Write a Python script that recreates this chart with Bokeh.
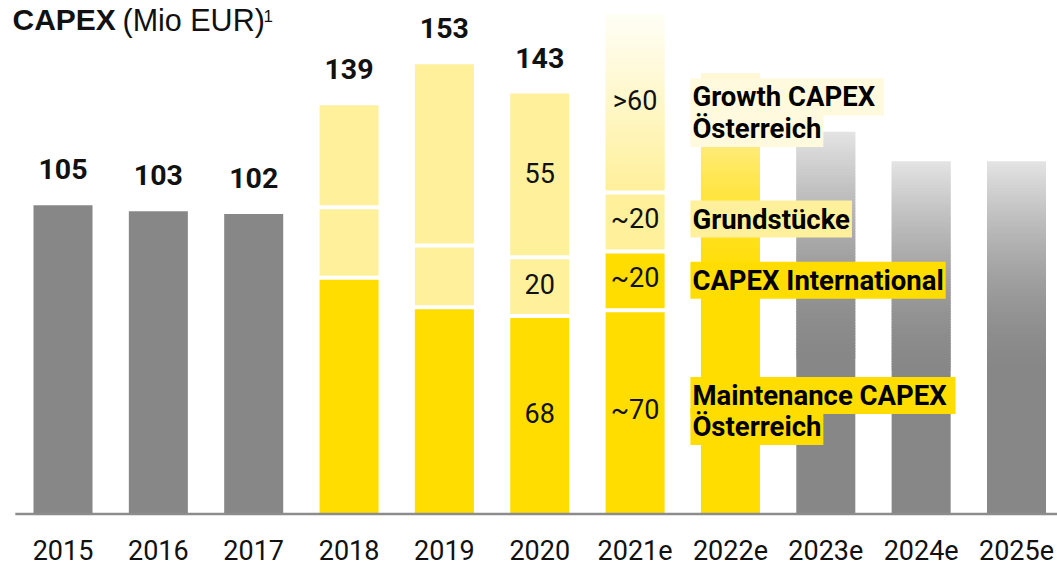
from bokeh.plotting import figure
from bokeh.models import Range1d, ColumnDataSource, Label
from bokeh.core.properties import value
from bokeh.embed import file_html
from bokeh.resources import INLINE

# ---------------- data ----------------
years = ["2015", "2016", "2017", "2018", "2019", "2020",
         "2021e", "2022e", "2023e", "2024e", "2025e"]

hist_years = ["2015", "2016", "2017"]
hist_values = [105, 103, 102]

stack_years = ["2018", "2019", "2020"]
stack_maint = [81, 71, 68]
stack_mid = [24, 21, 20]
stack_growth = [34, 61, 55]

total_years = ["2015", "2016", "2017", "2018", "2019", "2020"]
totals = [105, 103, 102, 139, 153, 143]

labels_2020 = ["68", "20", "55"]

plan_year = "2021e"
plan_segments = [70, 20, 20, 60]          # Maintenance, International, Grundstücke, Growth
plan_labels = ["~70", "~20", "~20", ">60"]

fc_yellow_year = "2022e"
fc_yellow_value = 150
fc_gray_years = ["2023e", "2024e", "2025e"]
fc_gray_values = [130, 120, 120]

legend_names = ["Maintenance CAPEX ", "Österreich", "CAPEX International",
                "Grundstücke", "Growth CAPEX ", "Österreich"]

# ---------------- style ----------------
GRAY = "#878787"
YELLOW = "#FFDD00"
LIGHT = "#FFF09B"
PALE = "#FFF9DE"
FONT = "Roboto"
PX_PER_UNIT = 2.94
GAP = 4 / PX_PER_UNIT
W = 0.619

W_PX, H_PX = 1057, 565
BASE_PX = 513.5
x0 = (0 - 62.5) / 95.35
x1 = (W_PX - 62.5) / 95.35
y_top = BASE_PX / PX_PER_UNIT
y_bot = -(H_PX - BASE_PX) / PX_PER_UNIT

p = figure(width=W_PX, height=H_PX, x_range=Range1d(x0, x1), y_range=Range1d(y_bot, y_top),
           output_backend="svg", toolbar_location=None, min_border=0)
p.axis.visible = False
p.grid.visible = False
p.outline_line_color = None
p.background_fill_color = "white"
p.border_fill_color = "white"

idx = {y: i for i, y in enumerate(years)}


def hex2rgb(h):
    h = h.lstrip("#")
    return [int(h[i:i + 2], 16) for i in (0, 2, 4)]


def mix(c0, c1, t):
    a, b = hex2rgb(c0), hex2rgb(c1)
    return "#%02x%02x%02x" % tuple(round(a[k] + (b[k] - a[k]) * t) for k in range(3))


quads = dict(left=[], right=[], bottom=[], top=[], color=[])


def add_quad(x, b, t, c):
    quads["left"].append(x - W / 2)
    quads["right"].append(x + W / 2)
    quads["bottom"].append(b)
    quads["top"].append(t)
    quads["color"].append(c)


def add_gradient(x, b, t, c_bottom, c_top, n=80, ease=1.0):
    step = (t - b) / n
    for k in range(n):
        yb = b + k * step
        yt = min(yb + step * 1.6, t)
        add_quad(x, yb, yt, mix(c_bottom, c_top, ((k + 0.5) / n) ** ease))


# historic gray bars
for y, v in zip(hist_years, hist_values):
    add_quad(idx[y], 0, v, GRAY)

# stacked 2018-2020
for y, m, mid, g in zip(stack_years, stack_maint, stack_mid, stack_growth):
    x = idx[y]
    add_quad(x, 0, m - GAP, YELLOW)
    add_quad(x, m, m + mid - GAP, LIGHT)
    add_quad(x, m + mid, m + mid + g, LIGHT)

# 2021e plan
xp = idx[plan_year]
cum = 0
plan_centers = []
plan_colors = [YELLOW, YELLOW, LIGHT]
for k, v in enumerate(plan_segments):
    plan_centers.append(cum + v / 2)
    if k < 3:
        add_quad(xp, cum, cum + v - GAP, plan_colors[k])
    else:
        add_gradient(xp, cum, cum + v, LIGHT, "#FFFEF6")
    cum += v

# 2022e yellow gradient
xy = idx[fc_yellow_year]
solid = fc_yellow_value * 0.50
add_quad(xy, 0, solid, YELLOW)
add_gradient(xy, solid, fc_yellow_value, YELLOW, "#FFF8DA", ease=1.5)

# 2023e-2025e gray gradient
for y, v in zip(fc_gray_years, fc_gray_values):
    x = idx[y]
    solid = v * 0.40
    add_quad(x, 0, solid, GRAY)
    add_gradient(x, solid, v, GRAY, "#E4E4E4", ease=1.6)

p.quad(left="left", right="right", bottom="bottom", top="top", fill_color="color",
       line_color=None, source=ColumnDataSource(quads))

# baseline
p.segment(x0=[-0.5], y0=[0], x1=[11], y1=[0], line_color="#8C8C8C", line_width=2.5)

# year labels
p.text(x=[idx[y] for y in years], y=[0] * len(years), text=years,
       text_align="center", text_baseline="middle", y_offset=35.5,
       text_font=value(FONT), text_font_size="27px", text_color="#111111")

# totals
p.text(x=[idx[y] for y in total_years], y=totals, text=[str(t) for t in totals],
       text_align="center", text_baseline="middle", y_offset=-36,
       text_font=value(FONT), text_font_size="28.5px", text_font_style="bold",
       text_color="#111111")

# 2020 segment labels
c2020 = [stack_maint[2] / 2, stack_maint[2] + stack_mid[2] / 2,
         stack_maint[2] + stack_mid[2] + stack_growth[2] / 2]
p.text(x=[idx["2020"]] * 3, y=c2020, text=labels_2020,
       text_align="center", text_baseline="middle", y_offset=-1,
       text_font=value(FONT), text_font_size="27px", text_color="#111111")

# 2021e segment labels
p.text(x=[xp] * 4, y=plan_centers, text=plan_labels,
       text_align="center", text_baseline="middle", y_offset=-1,
       text_font=value(FONT), text_font_size="27px", text_color="#111111")

# legend labels
lx = idx[fc_yellow_year] - 0.42
leg = ColumnDataSource(dict(
    x=[lx] * 6,
    y=[plan_centers[0], plan_centers[0], plan_centers[1], plan_centers[2],
       plan_centers[3], plan_centers[3]],
    yo=[-15.5, 15.5, 1.5, -1, -5.5, 26],
    text=legend_names,
    bg=[YELLOW, YELLOW, YELLOW, LIGHT, PALE, PALE],
))
p.text(x="x", y="y", y_offset="yo", text="text", source=leg,
       text_align="left", text_baseline="middle",
       text_font=value(FONT), text_font_size="27.5px", text_font_style="bold",
       text_color="#000000", background_fill_color="bg", padding=2)

# title
p.add_layout(Label(x=12, y=H_PX - 19, x_units="screen", y_units="screen", text="CAPEX",
                   text_font="Liberation Sans", text_font_size="30px", text_font_style="bold",
                   text_baseline="middle", text_color="#111111"))
p.add_layout(Label(x=122, y=H_PX - 19, x_units="screen", y_units="screen", text="(Mio EUR)",
                   text_font="Liberation Sans", text_font_size="30.5px",
                   text_baseline="middle", text_color="#111111"))
p.add_layout(Label(x=263, y=H_PX - 15, x_units="screen", y_units="screen", text="1",
                   text_font="Liberation Sans", text_font_size="17px",
                   text_baseline="middle", text_color="#111111"))

open("out.html", "w").write(file_html(p, INLINE))
